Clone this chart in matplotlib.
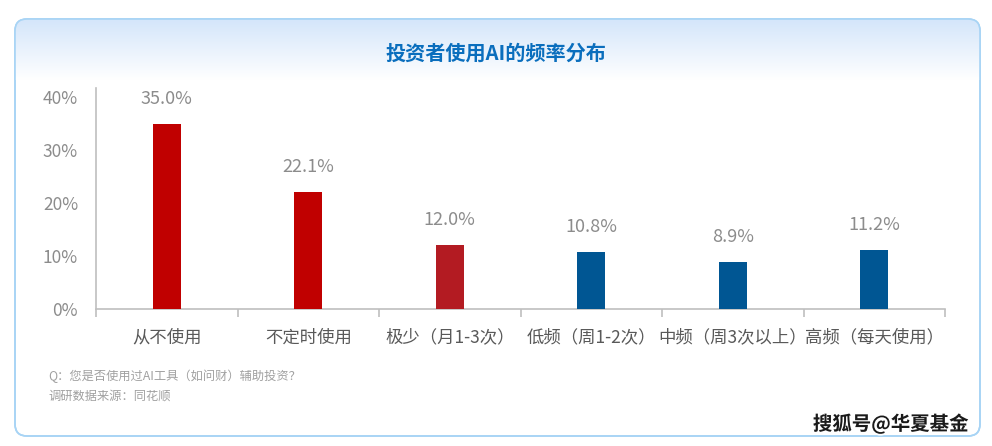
import numpy as np
import matplotlib
matplotlib.use("Agg")
import matplotlib.pyplot as plt
from matplotlib.patches import FancyBboxPatch
import matplotlib.patheffects as pe

plt.rcParams['font.family'] = ['Noto Sans CJK SC', 'DejaVu Sans']

title = "投资者使用AI的频率分布"
categories = ["从不使用", "不定时使用", "极少（月1-3次）", "低频（周1-2次）", "中频（周3次以上）", "高频（每天使用）"]
values = [35.0, 22.1, 12.0, 10.8, 8.9, 11.2]
bar_colors = ["#C00000", "#C00000", "#B31B22", "#005693", "#005693", "#005693"]
yticks = [0, 10, 20, 30, 40]
ytick_labels = ["0%", "10%", "20%", "30%", "40%"]
note_lines = ["Q：您是否使用过AI工具（如问财）辅助投资？", "调研数据来源：同花顺"]
watermark = "搜狐号@华夏基金"

W, H = 992, 446
fig = plt.figure(figsize=(W / 100, H / 100), dpi=100)

# background layer in pixel coordinates
bg = fig.add_axes([0, 0, 1, 1])
bg.set_xlim(0, W)
bg.set_ylim(H, 0)
bg.axis("off")

box = FancyBboxPatch((15, 19), 965, 417, boxstyle="round,pad=0,rounding_size=12",
                     facecolor="white", edgecolor="#A8D4F5", linewidth=1.2, zorder=1)
bg.add_patch(box)
grad = np.linspace(0, 1, 256).reshape(-1, 1)
top_c = np.array([0.83, 0.90, 0.98])
img = top_c[None, None, :] * (1 - grad[..., None]) + np.array([1, 1, 1])[None, None, :] * grad[..., None]
im = bg.imshow(img, extent=(15, 980, 80, 19), aspect="auto", zorder=2, interpolation="bilinear")
im.set_clip_path(box)
box2 = FancyBboxPatch((15, 19), 965, 417, boxstyle="round,pad=0,rounding_size=12",
                      facecolor="none", edgecolor="#A8D4F5", linewidth=1.2, zorder=3)
bg.add_patch(box2)

bg.text(496, 53, title, ha="center", va="center", fontsize=14.5, fontweight="bold",
        color="#0A6EBD", zorder=4)
bg.text(48, 376, note_lines[0], ha="left", va="center", fontsize=8.8, color="#A0A0A0", zorder=4)
bg.text(48, 396, note_lines[1], ha="left", va="center", fontsize=8.8, color="#A0A0A0", zorder=4)
bg.text(969, 424, watermark, ha="right", va="center", fontsize=14, fontweight="bold",
        color="#1a1a1a", zorder=4,
        path_effects=[pe.withStroke(linewidth=2.5, foreground="white")])

# main axes
left, right = 96 / W, 945 / W
bottom, top = (H - 309) / H, (H - 88) / H
ax = fig.add_axes([left, bottom, right - left, top - bottom])
ax.patch.set_alpha(0)
x = np.arange(len(categories))
ax.bar(x, values, width=0.2, color=bar_colors, zorder=3)
ax.set_xlim(-0.5, len(categories) - 0.5)
ax.set_ylim(0, 41.7)
ax.set_yticks(yticks)
ax.set_yticklabels(ytick_labels)
ax.tick_params(axis="y", length=0, pad=13, labelsize=12.5, labelcolor="#8C8C8C")
ax.set_xticks(x)
ax.set_xticklabels(categories)
ax.tick_params(axis="x", length=0, pad=14, labelsize=12.5, labelcolor="#595959")
ax.set_xticks(np.arange(len(categories) + 1) - 0.5, minor=True)
ax.tick_params(axis="x", which="minor", length=6, color="#BFBFBF", width=1.2)
for s in ["top", "right"]:
    ax.spines[s].set_visible(False)
ax.spines["left"].set_color("#BFBFBF")
ax.spines["bottom"].set_color("#BFBFBF")
ax.spines["left"].set_linewidth(1.2)
ax.spines["bottom"].set_linewidth(1.2)
ax.spines["left"].set_bounds(0, 41.7)

for xi, v in zip(x, values):
    ax.annotate(f"{v:.1f}%", (xi, v), xytext=(0, 18), textcoords="offset points",
                ha="center", va="center", fontsize=13, color="#8C8C8C")

fig.savefig("out.png", dpi=100)
